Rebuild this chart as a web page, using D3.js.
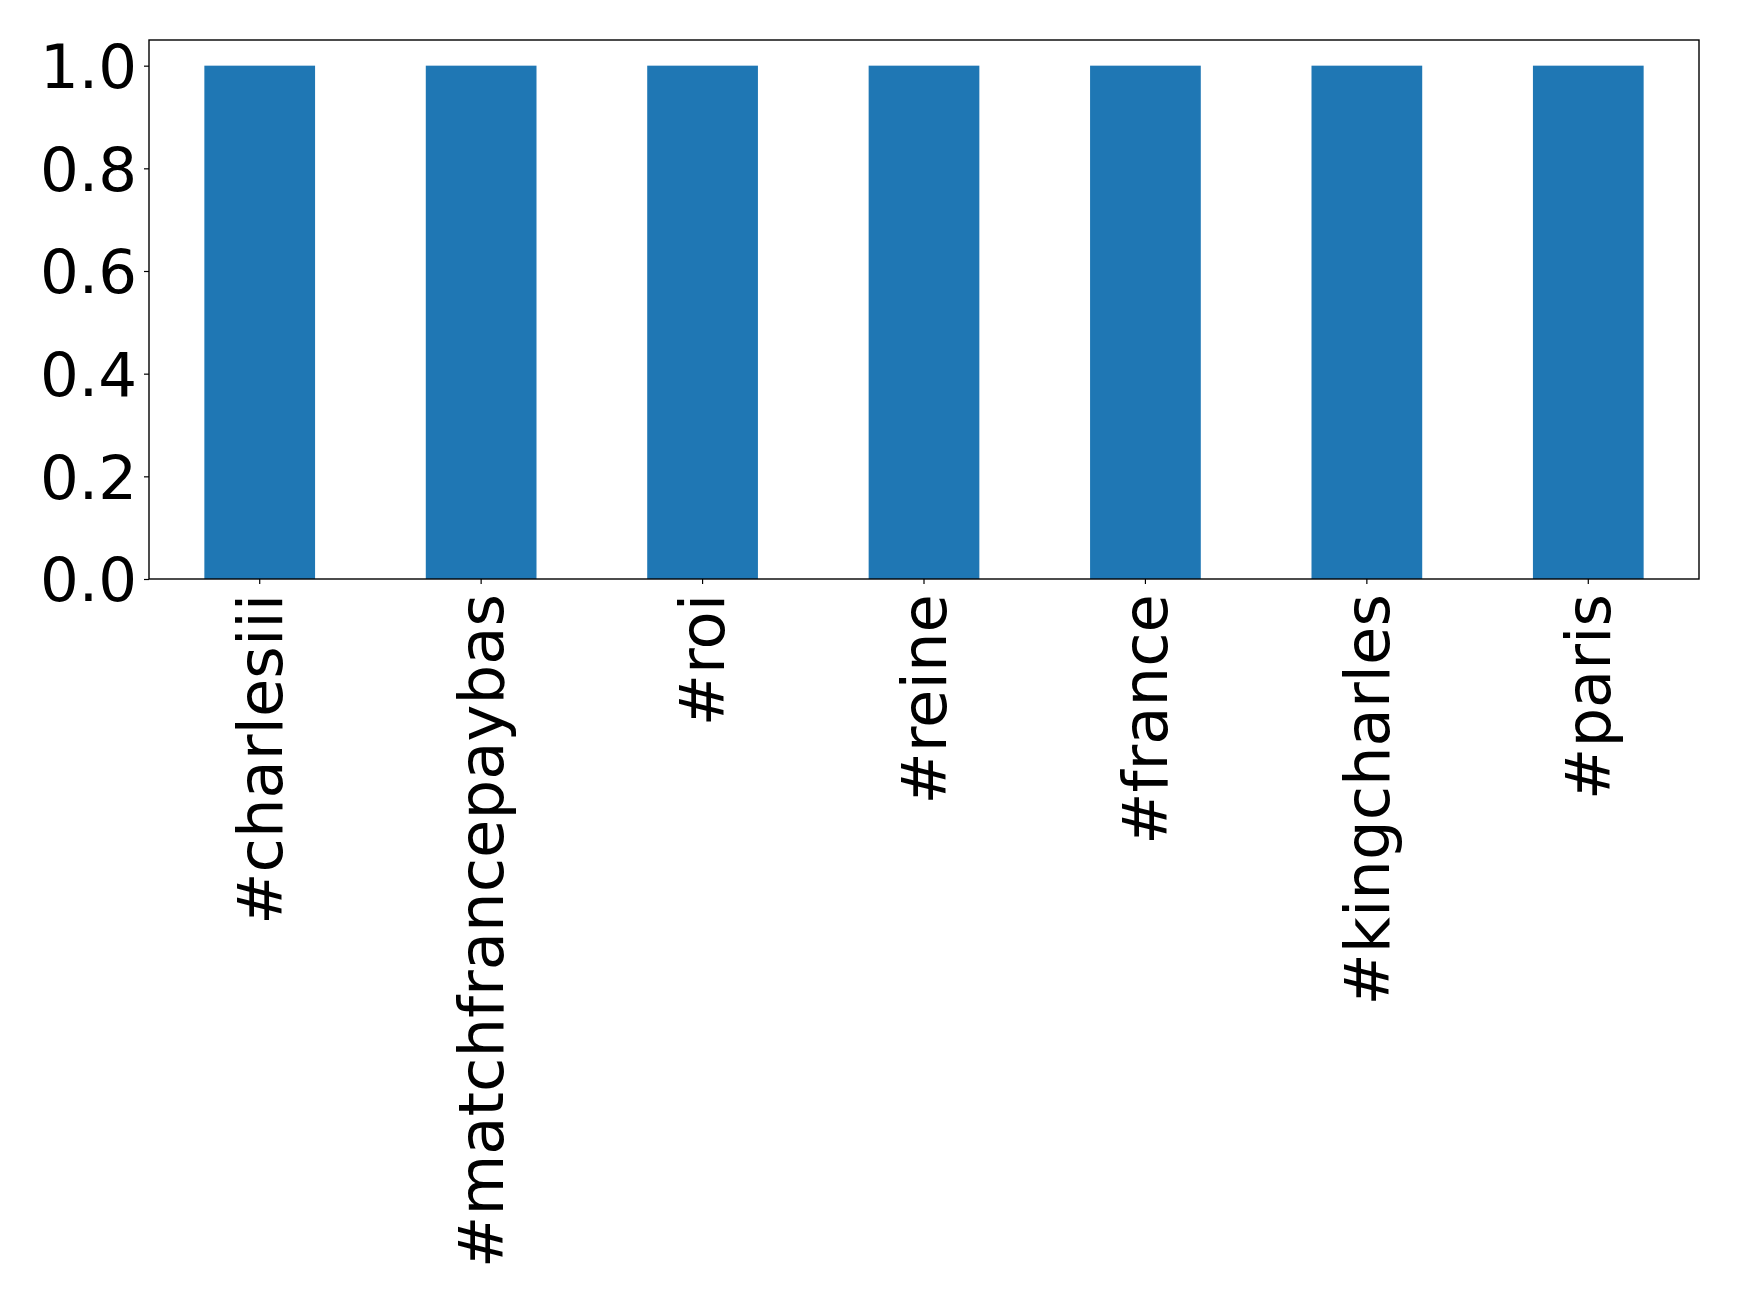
<!DOCTYPE html>
<html>
<head>
<meta charset="utf-8">
<script src="https://cdn.jsdelivr.net/npm/d3@7/dist/d3.min.js"></script>
<style>
  html, body { margin: 0; padding: 0; background: #fff; }
  svg { display: block; }
  text { font-family: "DejaVu Sans", sans-serif; fill: #000; }
</style>
</head>
<body>
<svg id="chart" width="1739" height="1302"></svg>
<script>
const categories = ["#charlesiii", "#matchfrancepaybas", "#roi", "#reine", "#france", "#kingcharles", "#paris"];
const values = [1, 1, 1, 1, 1, 1, 1];
const yTicks = [0.0, 0.2, 0.4, 0.6, 0.8, 1.0];

const W = 1739, H = 1302;
const m = { left: 149, right: 1699, top: 40, bottom: 579 };
const fontSize = 62.5;
const yFontSize = 61;

const svg = d3.select("#chart");

const x = d3.scaleBand()
  .domain(categories)
  .range([m.left, m.right])
  .paddingInner(0.5)
  .paddingOuter(0.25);

const y = d3.scaleLinear()
  .domain([0, 1.05])
  .range([m.bottom, m.top]);

// bars
svg.append("g")
  .selectAll("rect")
  .data(categories.map((c, i) => ({ c, v: values[i] })))
  .join("rect")
  .attr("x", d => x(d.c))
  .attr("width", x.bandwidth())
  .attr("y", d => y(d.v))
  .attr("height", d => y(0) - y(d.v))
  .attr("fill", "#1f77b4");

// y axis
const yAxis = svg.append("g")
  .attr("transform", `translate(${m.left},0)`)
  .call(d3.axisLeft(y).tickValues(yTicks).tickFormat(d3.format(".1f")).tickSize(5).tickPadding(7));
yAxis.select(".domain").remove();
yAxis.selectAll("line").attr("stroke", "#000").attr("stroke-width", 1.2);
yAxis.selectAll("text")
  .attr("font-size", yFontSize)
  .attr("font-family", "DejaVu Sans")
  .attr("dy", "0.36em");

// x axis
const xAxis = svg.append("g")
  .attr("transform", `translate(0,${m.bottom})`)
  .call(d3.axisBottom(x).tickSize(5).tickPadding(0));
xAxis.select(".domain").remove();
xAxis.selectAll("line").attr("stroke", "#000").attr("stroke-width", 1.2);
xAxis.selectAll("text")
  .attr("font-size", fontSize)
  .attr("font-family", "DejaVu Sans")
  .attr("text-anchor", "end")
  .attr("transform", "translate(0,15) rotate(-90)")
  .attr("x", 0)
  .attr("y", 0)
  .attr("dy", "0.35em");

// frame
svg.append("rect")
  .attr("x", m.left)
  .attr("y", m.top)
  .attr("width", m.right - m.left)
  .attr("height", m.bottom - m.top)
  .attr("fill", "none")
  .attr("stroke", "#000")
  .attr("stroke-width", 1.4);
</script>
</body>
</html>
